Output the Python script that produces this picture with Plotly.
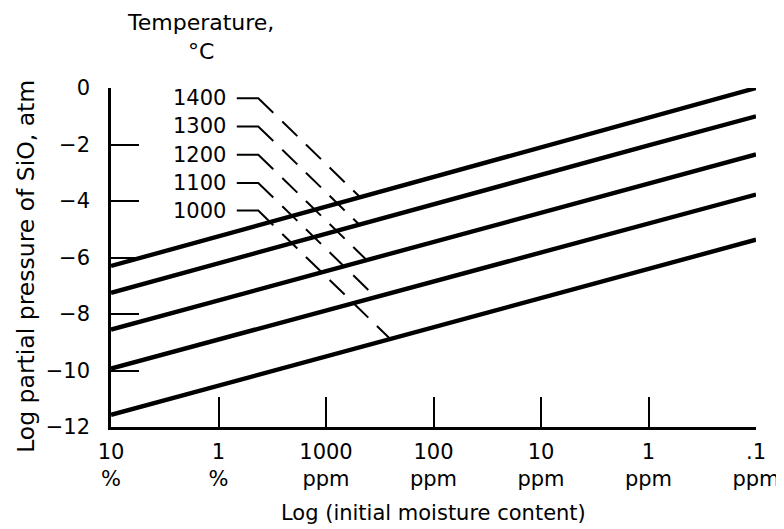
import numpy as np
import plotly.graph_objects as go

# ---- data ----
x_pos = [0, 1, 2, 3, 4, 5, 6]
x_labels = ["10<br>%", "1<br>%", "1000<br>ppm", "100<br>ppm", "10<br>ppm", "1<br>ppm", ".1<br>ppm"]
temps = [1400, 1300, 1200, 1100, 1000]
line_1400 = [-6.30, -5.25, -4.20, -3.15, -2.10, -1.05, 0.00]
line_1300 = [-7.25, -6.20, -5.15, -4.12, -3.07, -2.03, -1.00]
line_1200 = [-8.55, -7.52, -6.48, -5.45, -4.42, -3.38, -2.35]
line_1100 = [-9.93, -8.90, -7.85, -6.82, -5.80, -4.78, -3.77]
line_1000 = [-11.57, -10.54, -9.50, -8.47, -7.44, -6.40, -5.37]
series = [line_1400, line_1300, line_1200, line_1100, line_1000]
y_ticks = [0, -2, -4, -6, -8, -10, -12]

# leader label positions (data units)
label_y = [-0.36, -1.36, -2.36, -3.36, -4.34]
label_x = 1.09
stub_x0, stub_x1 = 1.17, 1.37
leader_slope = -3.70   # dy/dx in data units

FONT = "DejaVu Sans, Liberation Sans, Arial, sans-serif"
px_x = 645 / 6.0

fig = go.Figure()
for vals in series:
    fig.add_trace(go.Scatter(x=x_pos, y=vals, mode="lines",
                             line=dict(color="black", width=4.4),
                             showlegend=False, hoverinfo="skip", cliponaxis=False))

annotations = []
for t, ly, vals in zip(temps, label_y, series):
    xs = np.linspace(stub_x1, 6, 20000)
    diff = np.interp(xs, x_pos, vals) - (ly + leader_slope * (xs - stub_x1))
    idx = np.where(np.sign(diff[:-1]) != np.sign(diff[1:]))[0][0]
    x_end = xs[idx]
    y_of = lambda xx: ly + leader_slope * (xx - stub_x1)
    xa = stub_x1 + 15 / px_x
    xb = stub_x1 + 24 / px_x
    fig.add_trace(go.Scatter(x=[stub_x0, stub_x1, xa], y=[ly, ly, y_of(xa)], mode="lines",
                             line=dict(color="black", width=2), showlegend=False,
                             hoverinfo="skip"))
    if x_end > xb:
        fig.add_trace(go.Scatter(x=[xb, x_end], y=[y_of(xb), y_of(x_end)], mode="lines",
                                 line=dict(color="black", width=2, dash="21px,12px"),
                                 showlegend=False, hoverinfo="skip"))
    annotations.append(dict(x=label_x, y=ly, xref="x", yref="y", text=str(t),
                            showarrow=False, xanchor="right", yanchor="middle",
                            font=dict(size=21, family=FONT, color="black")))

annotations.append(dict(x=0.1395, y=1.149, xref="paper", yref="paper",
                        text="Temperature,<br>°C",
                        showarrow=False, xanchor="center", yanchor="middle",
                        font=dict(size=22, family=FONT, color="black")))
annotations.append(dict(x=-0.132, y=0.475, xref="paper", yref="paper",
                        text="Log partial pressure of SiO, atm", textangle=-90,
                        showarrow=False, xanchor="center", yanchor="middle",
                        font=dict(size=23.5, family=FONT, color="black")))
annotations.append(dict(x=0.5, y=-0.254, xref="paper", yref="paper",
                        text="Log (initial moisture content)",
                        showarrow=False, xanchor="center", yanchor="middle",
                        font=dict(size=21, family=FONT, color="black")))

# page body has an 8px default margin, so the figure is 8px smaller
fig.update_layout(
    width=776, height=521,
    margin=dict(l=103, r=28, t=80, b=102, autoexpand=False),
    paper_bgcolor="white", plot_bgcolor="white",
    font=dict(family=FONT, size=20, color="black"),
    annotations=annotations,
    xaxis=dict(range=[0, 6], tickvals=x_pos, ticktext=x_labels, showgrid=False,
               zeroline=False, showline=True, linecolor="black", linewidth=2.5,
               ticks="inside", ticklen=30, tickwidth=2, tickcolor="black",
               ticklabelstandoff=4, tickfont=dict(size=21), automargin=False),
    yaxis=dict(range=[-12, 0], tickvals=y_ticks, showgrid=False, zeroline=False,
               showline=True, linecolor="black", linewidth=2.5,
               ticks="inside", ticklen=28, tickwidth=2, tickcolor="black",
               ticklabelstandoff=14, tickfont=dict(size=21), automargin=False),
)

fig.write_html("out.html")
